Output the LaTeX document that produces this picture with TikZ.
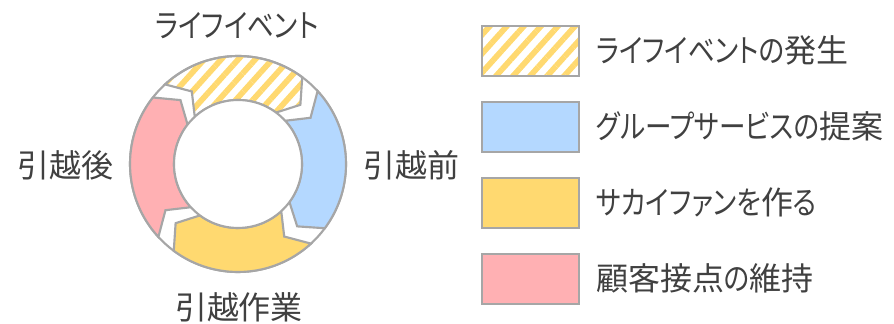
\documentclass[tikz,border=0pt]{standalone}
\usepackage{fontspec}
\setmainfont{Noto Sans CJK JP}[RawFeature=+palt]
\newfontfamily\kn{Noto Sans CJK JP}[RawFeature=+palt, FakeStretch=0.83]
\usetikzlibrary{patterns.meta}
\definecolor{ringgray}{HTML}{A6A6A6}
\definecolor{cblue}{HTML}{B4D8FF}
\definecolor{cyel}{HTML}{FFD970}
\definecolor{cpink}{HTML}{FFB0B3}
\definecolor{txt}{HTML}{404040}
\newcommand\ringseg[3]{%
  \draw[segline,#3] ({#1}:108) arc[start angle={#1}, end angle={#2}, radius=108]
    -- ({#2-10}:86) -- ({#2}:64) arc[start angle={#2}, end angle={#1}, radius=64]
    -- ({#1-10}:86) -- cycle;}
\begin{document}
\begin{tikzpicture}[x=0.75pt,y=0.75pt,
  segline/.style={draw=ringgray, line width=1.6pt, line join=miter},
  hatchfill/.style={pattern={Lines[angle=48,distance=9.5pt,line width=4.3pt]}, pattern color=cyel},
  lbl/.style={text=txt, font=\fontsize{24pt}{28pt}\selectfont, inner sep=0pt},
  legbox/.style={draw=ringgray, line width=1.8pt, minimum width=72.75pt, minimum height=37.5pt, inner sep=0pt}]
\useasboundingbox (0,0) rectangle (894,324);
% ring
\begin{scope}[shift={(238,160)}]
  \draw[segline, fill=white] (0,0) circle[radius=108];
  \ringseg{132.5}{53.5}{hatchfill}
  \ringseg{42.5}{-36.5}{fill=cblue}
  \ringseg{-47.5}{-126.5}{fill=cyel}
  \ringseg{-137.5}{-218}{fill=cpink}
  \draw[segline, fill=white] (0,0) circle[radius=64];
\end{scope}
% ring labels
\node[lbl] (top) at (237,298) {\kn ライフイベント};
\node[lbl] (right) at (411.5,159) {引越前};
\node[lbl] (bottom) at (239,17) {引越作業};
\node[lbl] (left) at (65,159) {引越後};
% legend
\node[legbox, hatchfill] (b1) at (530.5,273) {};
\node[legbox, fill=cblue] (b2) at (530.5,197) {};
\node[legbox, fill=cyel] (b3) at (530.5,121) {};
\node[legbox, fill=cpink] (b4) at (530.5,45) {};
\node[lbl, anchor=west] (t1) at (596,274) {{\kn ライフイベントの}発生};
\node[lbl, anchor=west] (t2) at (596,198) {{\kn グループサービスの}提案};
\node[lbl, anchor=west] (t3) at (596,122) {{\kn サカイファンを}作{\kn る}};
\node[lbl, anchor=west] (t4) at (596,46) {顧客接点{\kn の}維持};
\end{tikzpicture}
\end{document}
